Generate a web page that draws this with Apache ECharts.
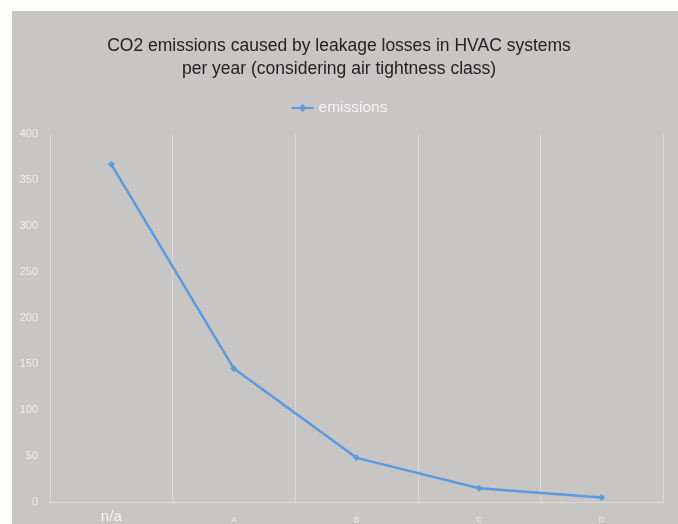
<!DOCTYPE html>
<html><head><meta charset="utf-8">
<script src="https://cdn.jsdelivr.net/npm/echarts@6/dist/echarts.min.js"></script>
<style>
html,body{margin:0;padding:0;background:#fdfdfb;}
#bg{position:absolute;left:12px;top:11px;width:666px;height:513px;background:#c8c5c5;}
#chart{position:absolute;left:0;top:0;width:678px;height:524px;}
</style></head>
<body><div id="bg"></div><div id="chart"></div>
<script>
const categories = ['n/a', 'A', 'B', 'C', 'D'];
const emissions = [367, 145, 48, 15, 5];
const yTicks = [0, 50, 100, 150, 200, 250, 300, 350, 400];

const chart = echarts.init(document.getElementById('chart'), null, {renderer: 'canvas'});
chart.setOption({
  backgroundColor: 'transparent',
  animation: false,
  title: {
    text: 'CO2 emissions caused by leakage losses in HVAC systems\nper year (considering air tightness class)',
    left: 'center', top: 30,
    textStyle: {color: '#222', fontSize: 17.5, fontWeight: 'normal', fontFamily: 'Liberation Sans', lineHeight: 23}
  },
  legend: {
    top: 95, left: 'center',
    itemWidth: 22, itemHeight: 10, itemGap: 5,
    textStyle: {color: '#f4f4f4', fontSize: 15.5, fontFamily: 'Liberation Sans'},
    data: ['emissions']
  },
  grid: {left: 50, right: 15, top: 134, bottom: 22, containLabel: false, outerBoundsMode: 'none'},
  xAxis: {
    type: 'category', data: categories, boundaryGap: true,
    axisLine: {show: true, lineStyle: {color: '#dcdada', width: 1}},
    axisTick: {show: false},
    splitLine: {show: true, lineStyle: {color: '#dad8d8', width: 1}},
    axisLabel: {
      margin: 7, color: '#eee', fontSize: 8,
      formatter: function (v) { return v === 'n/a' ? '{big|' + v + '}' : '{sm|' + v + '}'; },
      rich: {
        big: {fontSize: 15, color: '#f4f4f4', fontFamily: 'Liberation Sans', padding: [0,0,0,0]},
        sm: {fontSize: 8, color: '#eee', fontFamily: 'Liberation Sans', padding: [7,0,0,0]}
      }
    }
  },
  yAxis: {
    type: 'value', min: 0, max: 400, interval: 50,
    axisLine: {show: false}, axisTick: {show: false},
    splitLine: {show: false},
    axisLabel: {color: '#eee', fontSize: 11, margin: 12, fontFamily: 'Liberation Sans Narrow, Liberation Sans',
      formatter: function (v) { return yTicks.indexOf(v) >= 0 ? String(v) : ''; }}
  },
  series: [{
    name: 'emissions', type: 'line', data: emissions,
    symbol: 'diamond', symbolSize: 7,
    lineStyle: {color: '#5a9be0', width: 2.5},
    itemStyle: {color: '#5a9be0'}
  }]
});
</script></body></html>
